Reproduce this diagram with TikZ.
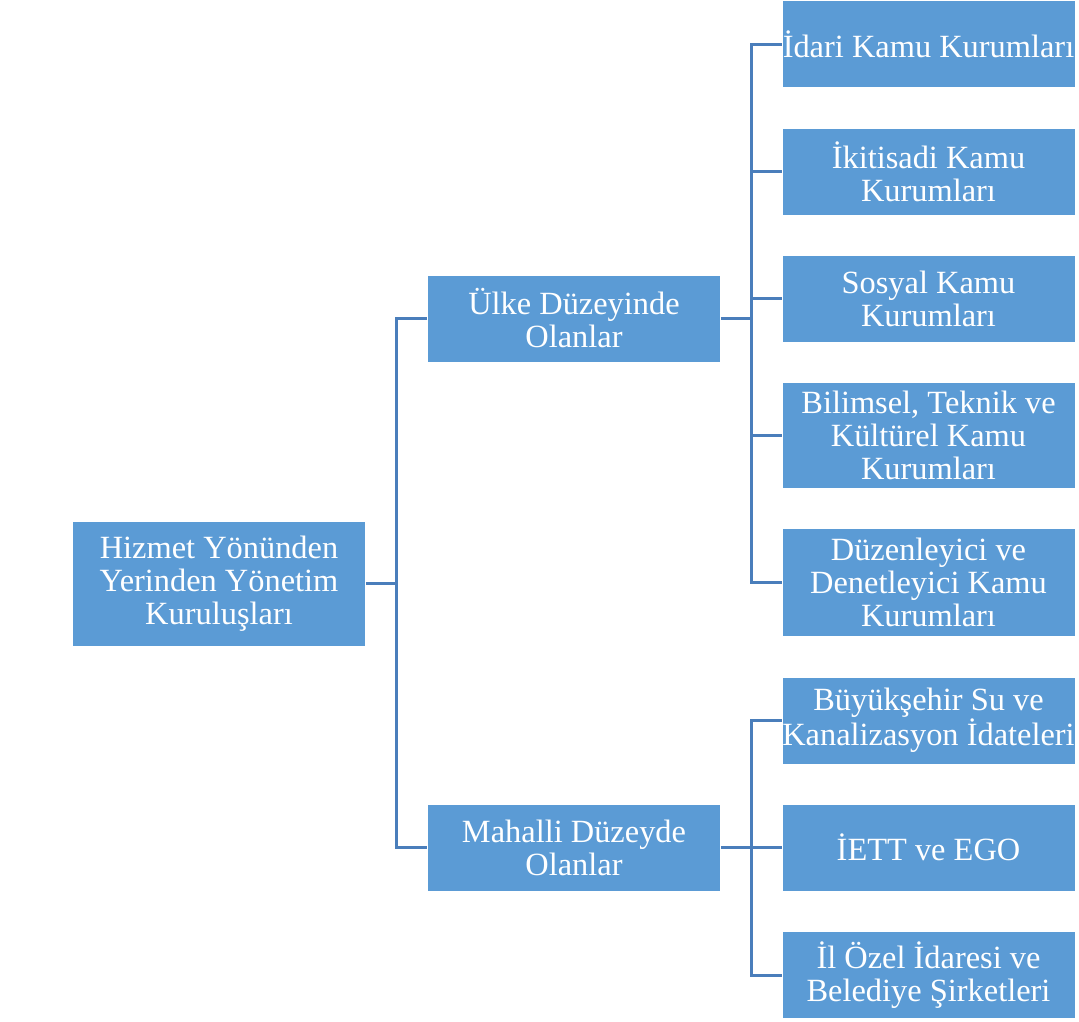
\documentclass[tikz,border=0pt]{standalone}
\usepackage{fontspec}
\setmainfont{Liberation Serif}
\definecolor{boxblue}{HTML}{5B9BD5}
\definecolor{linkblue}{HTML}{4A7EBB}
\begin{document}
\begin{tikzpicture}[x=1pt,y=-1pt,
  orgbox/.style={rectangle, fill=boxblue, draw=white, line width=0.8pt,
    text=white, align=center, inner sep=0pt, minimum width=293pt,
    font=\fontsize{32.4}{33}\selectfont},
  link/.style={draw=linkblue, line width=3pt}]
\useasboundingbox (0,0) rectangle (1079,1021);

% root and the two levels below it
\node[orgbox, minimum height=125pt] (root) at (219,583.5)
  {Hizmet Yönünden\\Yerinden Yönetim\\Kuruluşları};
\node[orgbox, minimum height=87pt] (ulke) at (574,318.5)
  {Ülke Düzeyinde\\Olanlar};
\node[orgbox, minimum height=87pt] (mahalli) at (574,847.5)
  {Mahalli Düzeyde\\Olanlar};

% national-level institutions
\node[orgbox, minimum height=87pt] (idari) at (928.5,44)
  {İdari Kamu Kurumları};
\node[orgbox, minimum height=87pt] (iktisadi) at (928.5,171.5)
  {İkitisadi Kamu\\Kurumları};
\node[orgbox, minimum height=87pt] (sosyal) at (928.5,298.5)
  {Sosyal Kamu\\Kurumları};
\node[orgbox, minimum height=106pt] (bilimsel) at (928.5,435)
  {Bilimsel, Teknik ve\\Kültürel Kamu\\Kurumları};
\node[orgbox, minimum height=108pt] (duzen) at (928.5,582.5)
  {Düzenleyici ve\\Denetleyici Kamu\\Kurumları};

% local-level institutions
\node[orgbox, minimum height=87pt] (buyuk) at (928.5,720.5)
  {Büyükşehir Su ve\\Kanalizasyon İdateleri};
\node[orgbox, minimum height=87pt] (iett) at (928.5,847.5)
  {İETT ve EGO};
\node[orgbox, minimum height=87pt] (ilozel) at (928.5,975)
  {İl Özel İdaresi ve\\Belediye Şirketleri};

% branching points
\coordinate (j1) at (396,583.5);
\coordinate (j2) at (751,318.5);
\coordinate (j3) at (751,847.5);

% connectors
\draw[link] (root.east) -- (j1);
\draw[link] (ulke.west) -| (j1) |- (mahalli.west);

\draw[link] (ulke.east) -- (j2);
\foreach \n in {idari,iktisadi,sosyal,bilimsel,duzen}
  \draw[link] (j2) |- (\n.west);

\draw[link] (mahalli.east) -- (j3);
\foreach \n in {buyuk,iett,ilozel}
  \draw[link] (j3) |- (\n.west);
\end{tikzpicture}
\end{document}
